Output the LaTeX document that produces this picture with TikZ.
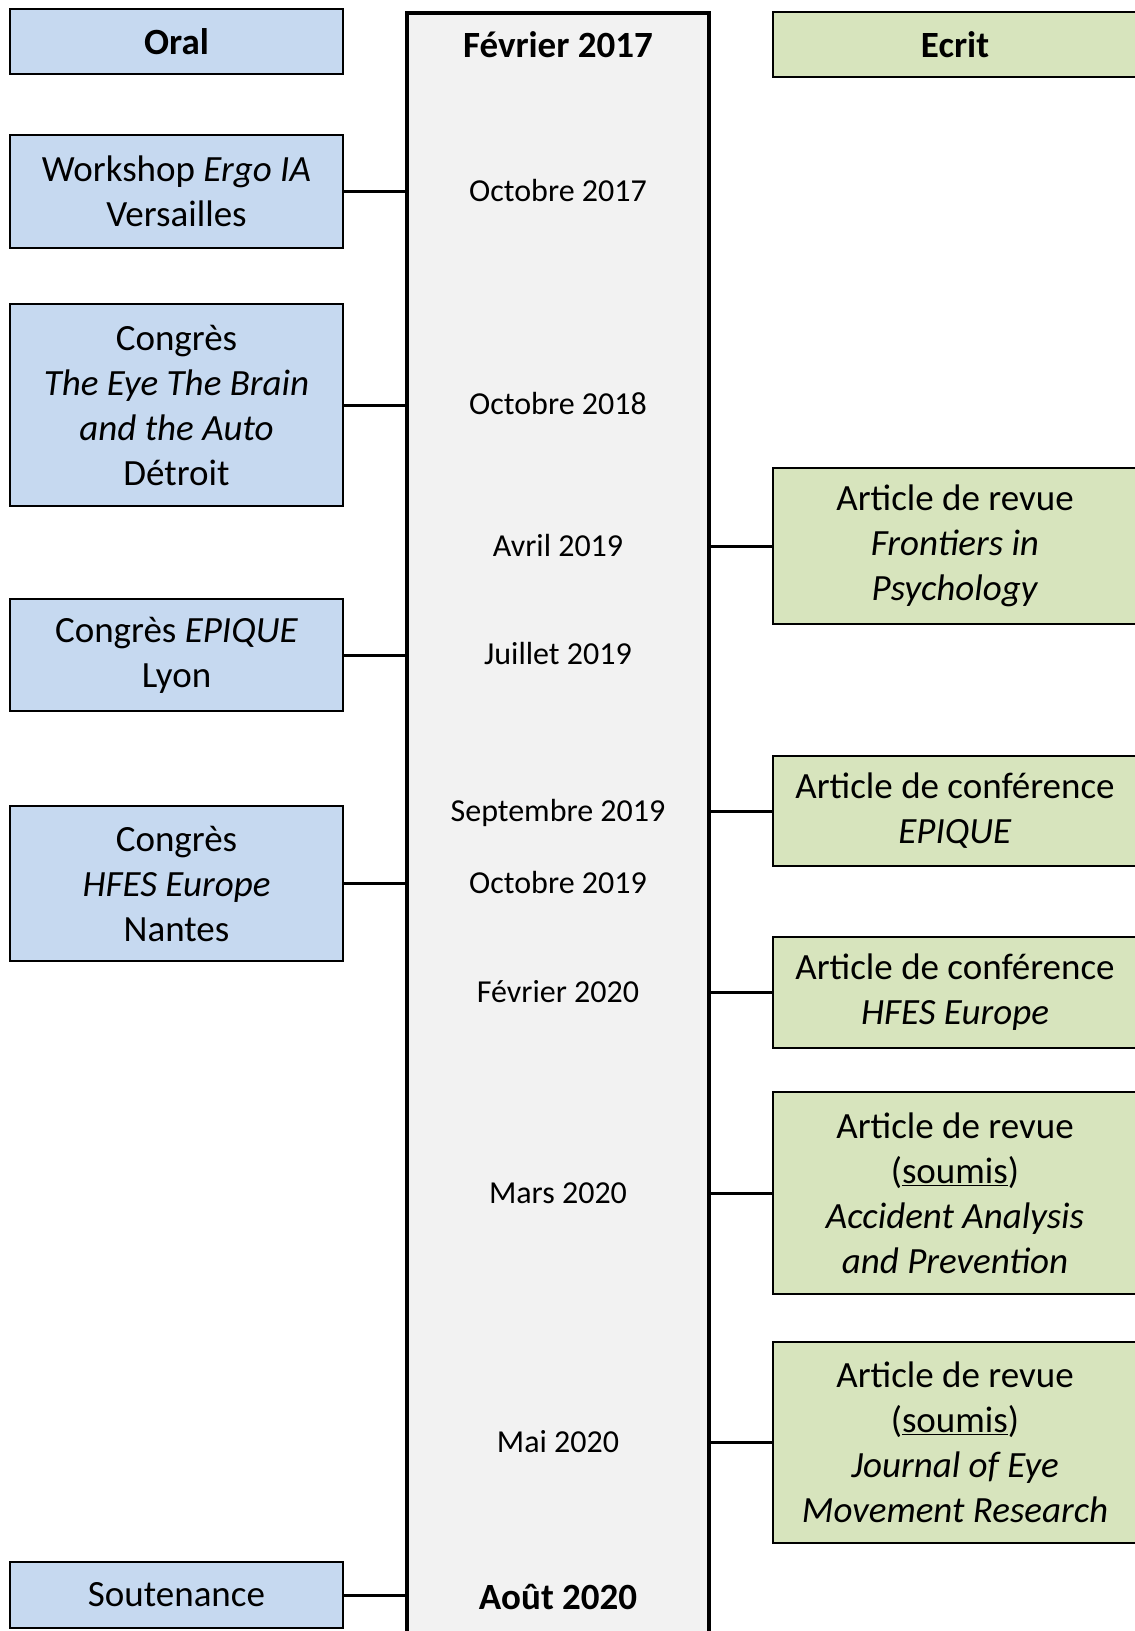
\documentclass[tikz,border=0pt]{standalone}
\usepackage{fontspec}
\setmainfont{Carlito}
\usepackage{tikz}
\usetikzlibrary{positioning}
\definecolor{OralBlue}{HTML}{C6D9F0}
\definecolor{EcritGreen}{HTML}{D7E4BD}
\definecolor{TimeGrey}{HTML}{F2F2F2}

\begin{document}
\begin{tikzpicture}[
      x=1pt,y=-1pt,
      boxtext/.style={font=\fontsize{37}{45}\selectfont, align=center},
      oralbox/.style={
        boxtext,
        draw=black,
        line width=1.5pt,
        fill=OralBlue,
        minimum width=333pt,
        inner sep=0pt
      },
      ecritbox/.style={
        boxtext,
        draw=black,
        line width=1.5pt,
        fill=EcritGreen,
        minimum width=364pt,
        inner sep=0pt
      },
      datelabel/.style={
        font=\fontsize{32}{38}\selectfont,
        text height=22pt, text depth=6pt,
        inner sep=0pt
      },
      datebold/.style={
        font=\fontsize{37}{45}\selectfont\bfseries,
        text height=26pt, text depth=7pt,
        inner sep=0pt
      },
      link/.style={line width=3pt}
    ]
      \useasboundingbox (0,0) rectangle (1135,1631);

      % frise centrale
      \node[draw=black,line width=3.5pt,fill=TimeGrey,
            minimum width=302pt,minimum height=1640pt,inner sep=0pt]
            (timeline) at (558,833) {};

      \node[datebold]  (fev17) at (558,48)   {Février 2017};
      \node[datelabel] (oct17) at (558,193)  {Octobre 2017};
      \node[datelabel] (oct18) at (558,406)  {Octobre 2018};
      \node[datelabel] (avr19) at (558,548)  {Avril 2019};
      \node[datelabel] (jui19) at (558,656)  {Juillet 2019};
      \node[datelabel] (sep19) at (558,813)  {Septembre 2019};
      \node[datelabel] (oct19) at (558,885)  {Octobre 2019};
      \node[datelabel] (fev20) at (558,994)  {Février 2020};
      \node[datelabel] (mar20) at (558,1195) {Mars 2020};
      \node[datelabel] (mai20) at (558,1444) {Mai 2020};
      \node[datebold]  (aou20) at (558,1600) {Août 2020};

      % colonne oral
      \node[oralbox,minimum height=65pt] (oral) at (176.5,41.5) {\bfseries Oral};
      \node[oralbox,minimum height=113pt] (ergo) at (176.5,191.5) {
        Workshop \textit{Ergo IA}\\Versailles};
      \node[oralbox,minimum height=202pt] (eyebrain) at (176.5,405) {
        Congrès\\\textit{The Eye The Brain}\\\textit{and the Auto}\\Détroit};
      \node[oralbox,minimum height=112pt] (epiqueoral) at (176.5,655) {
        Congrès \textit{EPIQUE}\\Lyon};
      \node[oralbox,minimum height=155pt] (hfesoral) at (176.5,883.5) {
        Congrès\\\textit{HFES Europe}\\Nantes};
      \node[oralbox,minimum height=66pt] (soutenance) at (176.5,1595) {
        Soutenance};

      % colonne ecrit
      \node[ecritbox,minimum height=65pt] (ecrit) at (955,44.5) {\bfseries Ecrit};
      \node[ecritbox,minimum height=156pt] (frontiers) at (955,546) {
        Article de revue\\\textit{Frontiers in}\\\textit{Psychology}};
      \node[ecritbox,minimum height=110pt] (epiqueecrit) at (955,811) {
        Article de conférence\\\textit{EPIQUE}};
      \node[ecritbox,minimum height=111pt] (hfesecrit) at (955,992.5) {
        Article de conférence\\\textit{HFES Europe}};
      \node[ecritbox,minimum height=202pt] (aap) at (955,1193) {
        Article de revue\\(\underline{soumis})\\\textit{Accident Analysis}\\\textit{and Prevention}};
      \node[ecritbox,minimum height=201pt] (jemr) at (955,1442.5) {
        Article de revue\\(\underline{soumis})\\\textit{Journal of Eye}\\\textit{Movement Research}};

      % liaisons
      \foreach \src in {ergo,eyebrain,epiqueoral,hfesoral,soutenance}
        \draw[link] (\src.east) -- (\src.east -| timeline.west);
      \foreach \src in {frontiers,epiqueecrit,hfesecrit,aap,jemr}
        \draw[link] (\src.west) -- (\src.west -| timeline.east);
    \end{tikzpicture}
\end{document}
